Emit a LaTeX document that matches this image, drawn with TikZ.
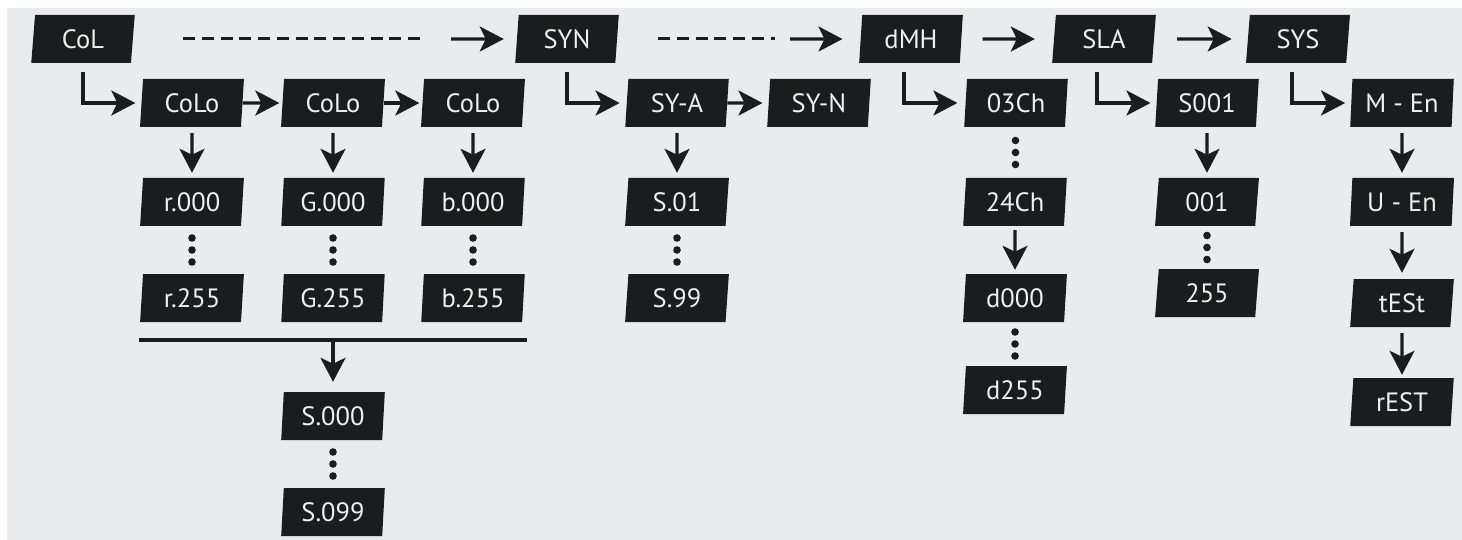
\documentclass[tikz,border=0pt]{standalone}
\usepackage{fontspec}
\setmainfont{PT Sans}
\usetikzlibrary{shapes.geometric,arrows.meta,calc}
\definecolor{bgc}{HTML}{E9ECEE}
\definecolor{boxc}{HTML}{1A1C1E}
\definecolor{txtc}{HTML}{EFEFEF}
\tikzset{
  box/.style={trapezium, trapezium left angle=85, trapezium right angle=95,
    trapezium stretches=true, minimum width=104pt, minimum height=48pt,
    fill=boxc, text=txtc, inner sep=0pt, font=\fontsize{26.5}{30}\selectfont},
  arr/.style={draw=boxc, line width=3.2pt, -{Stealth[length=24pt,width=25pt,inset=6pt]}},
  link/.style={draw=boxc, line width=3.2pt},
  dashline/.style={draw=boxc, line width=3pt, dash pattern=on 12pt off 6.75pt},
}
\newcommand\vdts[2]{\foreach \dd in {-12,0,12}{\fill[boxc] ($(#1.south)!0.5!(#2.north)$) ++(0,\dd) circle[radius=3.8pt];}}
\begin{document}
\begin{tikzpicture}[x=1pt,y=-1pt]
\path[use as bounding box, fill=white] (0,0) rectangle (1462,540);
\fill[bgc] (7,8) rectangle (1462,540);

% row 1
\node[box] (CoL) at (83,39) {CoL};
\node[box] (SYN) at (567,39) {SYN};
\node[box] (dMH) at (911,39) {dMH};
\node[box] (SLA) at (1104,39) {SLA};
\node[box] (SYS) at (1298,39) {SYS};
% row 2
\node[box] (CoLo1) at (192,103) {CoLo};
\node[box] (CoLo2) at (333,103) {CoLo};
\node[box] (CoLo3) at (473,103) {CoLo};
\node[box] (SYA) at (677,103) {SY-A};
\node[box] (SYNn) at (819,103) {SY-N};
\node[box] (c03Ch) at (1016,103) {03Ch};
\node[box] (S001) at (1207,103) {S001};
\node[box] (MEn) at (1402,103) {M - En};
% row 3
\node[box] (r000) at (192,202) {r.000};
\node[box] (G000) at (333,202) {G.000};
\node[box] (b000) at (473,202) {b.000};
\node[box] (S01) at (677,202) {S.01};
\node[box] (c24Ch) at (1015,202) {24Ch};
\node[box] (n001) at (1207,202) {001};
\node[box] (UEn) at (1402,202) {U - En};
% row 4
\node[box] (r255) at (192,298) {r.255};
\node[box] (G255) at (333,298) {G.255};
\node[box] (b255) at (473,298) {b.255};
\node[box] (S99) at (677,298) {S.99};
\node[box] (d000) at (1015,298) {d000};
\node[box] (n255) at (1207,293) {255};
\node[box] (tESt) at (1402,303) {tESt};
% row 5
\node[box] (S000) at (333,416) {S.000};
\node[box] (S099) at (333,512) {S.099};
\node[box] (d255) at (1015,390) {d255};
\node[box] (rEST) at (1402,402) {rEST};

% top row connectors
\coordinate (a1s) at (183,39); \coordinate (a1e) at (420,39); \coordinate (a1h) at (451,39);
\draw[dashline] (a1s) -- (a1e);
\draw[arr, shorten >=13pt] (a1h) -- (SYN);
\coordinate (a2s) at (658,39); \coordinate (a2e) at (775,39); \coordinate (a2h) at (790,39);
\draw[dashline] (a2s) -- (a2e);
\draw[arr, shorten >=18pt] (a2h) -- (dMH);
\draw[arr, shorten <=21pt, shorten >=19pt] (dMH) -- (SLA);
\draw[arr, shorten <=23pt, shorten >=16pt] (SLA) -- (SYS);

% elbows
\draw[arr, shorten >=6pt] ([yshift=-9pt]CoL.south) |- (CoLo1);
\draw[arr, shorten >=7pt] ([yshift=-9pt]SYN.south) |- (SYA);
\draw[arr, shorten >=8pt] ([xshift=-7pt,yshift=-9pt]dMH.south) |- (c03Ch);
\draw[arr, shorten >=6pt] ([xshift=-7pt,yshift=-9pt]SLA.south) |- (S001);
\draw[arr, shorten >=6pt] ([xshift=-6pt,yshift=-9pt]SYS.south) |- (MEn);

% row 2 horizontals
\draw[arr, shorten >=3pt] (CoLo1) -- (CoLo2);
\draw[arr, shorten >=3pt] (CoLo2) -- (CoLo3);
\draw[arr, shorten >=6pt] (SYA) -- (SYNn);

% downward arrows
\draw[arr, shorten <=6pt, shorten >=5pt] (CoLo1) -- (r000);
\draw[arr, shorten <=6pt, shorten >=5pt] (CoLo2) -- (G000);
\draw[arr, shorten <=6pt, shorten >=5pt] (CoLo3) -- (b000);
\draw[arr, shorten <=6pt, shorten >=5pt] (SYA) -- (S01);
\draw[arr, shorten <=6pt, shorten >=5pt] (S001) -- (n001);
\draw[arr, shorten <=4pt, shorten >=4pt] (c24Ch) -- (d000);
\draw[arr, shorten <=6pt, shorten >=5pt] (MEn) -- (UEn);
\draw[arr, shorten <=6pt, shorten >=6pt] (UEn) -- (tESt);
\draw[arr, shorten <=6pt, shorten >=3pt] (tESt) -- (rEST);

% bar
\coordinate (barL) at (139,340); \coordinate (barR) at (527,340);
\draw[link] (barL) -- (barR);
\draw[arr, shorten >=10pt] (barL -| S000) -- (S000);

% vertical dots
\vdts{r000}{r255}
\vdts{G000}{G255}
\vdts{b000}{b255}
\vdts{S01}{S99}
\vdts{S000}{S099}
\vdts{c03Ch}{c24Ch}
\vdts{d000}{d255}
\vdts{n001}{n255}
\end{tikzpicture}
\end{document}
